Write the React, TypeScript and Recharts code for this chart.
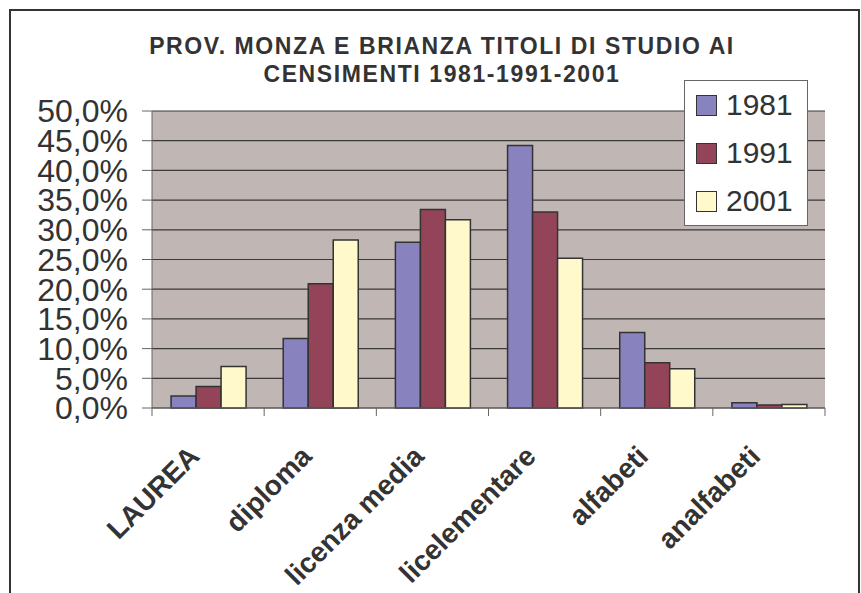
import { BarChart, Bar, XAxis, YAxis, CartesianGrid, Legend } from 'recharts';

const categories = ['LAUREA', 'diploma', 'licenza media', 'licelementare', 'alfabeti', 'analfabeti'];
const v1981 = [0.02, 0.117, 0.279, 0.442, 0.127, 0.009];
const v1991 = [0.036, 0.209, 0.334, 0.33, 0.076, 0.005];
const v2001 = [0.07, 0.283, 0.317, 0.252, 0.066, 0.006];
const yTicks = [0, 0.05, 0.1, 0.15, 0.2, 0.25, 0.3, 0.35, 0.4, 0.45, 0.5];
const series = [
  { key: 'y1981', name: '1981', fill: '#8882BE' },
  { key: 'y1991', name: '1991', fill: '#944459' },
  { key: 'y2001', name: '2001', fill: '#FFF9CC' },
];

const data = categories.map((c, i) => ({ cat: c, y1981: v1981[i], y1991: v1991[i], y2001: v2001[i] }));

const FONT = '"Liberation Sans", Arial, sans-serif';
const INK = '#333333';

const fmtPct = (v: number) => (v * 100).toFixed(1).replace('.', ',') + '%';

function XTick(props: any) {
  const { x, y, payload } = props;
  const half = payload.offset ?? 56;
  const base = y - 10; // axis line
  const tx = x - 7;
  const ty = base + 50;
  return (
    <g>
      <line x1={x - half} y1={base} x2={x - half} y2={base + 8} stroke="#666" />
      {payload.index === categories.length - 1 && (
        <line x1={x + half} y1={base} x2={x + half} y2={base + 8} stroke="#666" />
      )}
      <text
        x={tx}
        y={ty}
        transform={`rotate(-45 ${tx} ${ty})`}
        textAnchor="end"
        fontFamily={FONT}
        fontWeight="bold"
        fontSize={28}
        fill={INK}
      >
        {payload.value}
      </text>
    </g>
  );
}

function LegendBox(props: any) {
  const items = props.payload || [];
  return (
    <div
      style={{
        width: 122,
        height: 144,
        border: '1px solid #666',
        background: '#fff',
        boxSizing: 'content-box',
      }}
    >
      {items.map((it: any, i: number) => (
        <div
          key={i}
          style={{ display: 'flex', alignItems: 'center', height: 48, paddingLeft: 11 }}
        >
          <div
            style={{
              width: 19,
              height: 19,
              background: it.color,
              border: '1.5px solid #333',
              marginRight: 9,
            }}
          />
          <span style={{ fontFamily: FONT, fontSize: 30, color: INK, lineHeight: '30px' }}>{it.value}</span>
        </div>
      ))}
    </div>
  );
}

export default function App() {
  return (
    <div style={{ position: 'absolute', left: 0, top: 0, width: 861, height: 593, background: '#fff', overflow: 'hidden' }}>
      <div
        style={{
          position: 'absolute',
          left: 9,
          top: 9,
          width: 847,
          height: 620,
          border: '2px solid #333',
        }}
      />
      <div
        style={{
          position: 'absolute',
          left: 0,
          top: 32,
          width: 884,
          textAlign: 'center',
          fontFamily: FONT,
          fontWeight: 'bold',
          fontSize: 23,
          letterSpacing: 1.6,
          color: INK,
          lineHeight: '28px',
        }}
      >
        PROV. MONZA E BRIANZA TITOLI DI STUDIO AI
        <br />
        CENSIMENTI 1981-1991-2001
      </div>
      <div style={{ position: 'absolute', left: 0, top: 0 }}>
        <BarChart
          width={861}
          height={593}
          data={data}
          margin={{ top: 111, right: 36, left: 0, bottom: 0 }}
          barCategoryGap="17%"
          barGap={0}
        >
          <CartesianGrid vertical={false} fill="#C0B7B4" stroke="#3a3a3a" strokeWidth={1.2} />
          <XAxis
            dataKey="cat"
            height={185}
            interval={0}
            tickSize={8}
            tickMargin={2}
            tickLine={false}
            axisLine={{ stroke: '#666' }}
            tick={<XTick />}
          />
          <YAxis
            width={152}
            domain={[0, 0.5]}
            ticks={yTicks}
            interval={0}
            tickFormatter={fmtPct}
            tickSize={10}
            tickMargin={14}
            tickLine={{ stroke: '#666' }}
            axisLine={{ stroke: '#666' }}
            tick={{ fontFamily: FONT, fontSize: 32, fill: INK }}
          />
          <YAxis
            yAxisId="frame"
            orientation="right"
            width={0}
            domain={[0, 0.5]}
            tick={false}
            tickLine={false}
            axisLine={{ stroke: '#8c8280', strokeWidth: 2 }}
          />
          <Legend
            layout="vertical"
            verticalAlign="middle"
            align="center"
            content={<LegendBox />}
            wrapperStyle={{ position: 'absolute', left: 684, top: 80, width: 124 }}
          />
          {series.map((s) => (
            <Bar
              key={s.key}
              dataKey={s.key}
              name={s.name}
              fill={s.fill}
              stroke="#333"
              strokeWidth={1.5}
              isAnimationActive={false}
            />
          ))}
        </BarChart>
      </div>
    </div>
  );
}
